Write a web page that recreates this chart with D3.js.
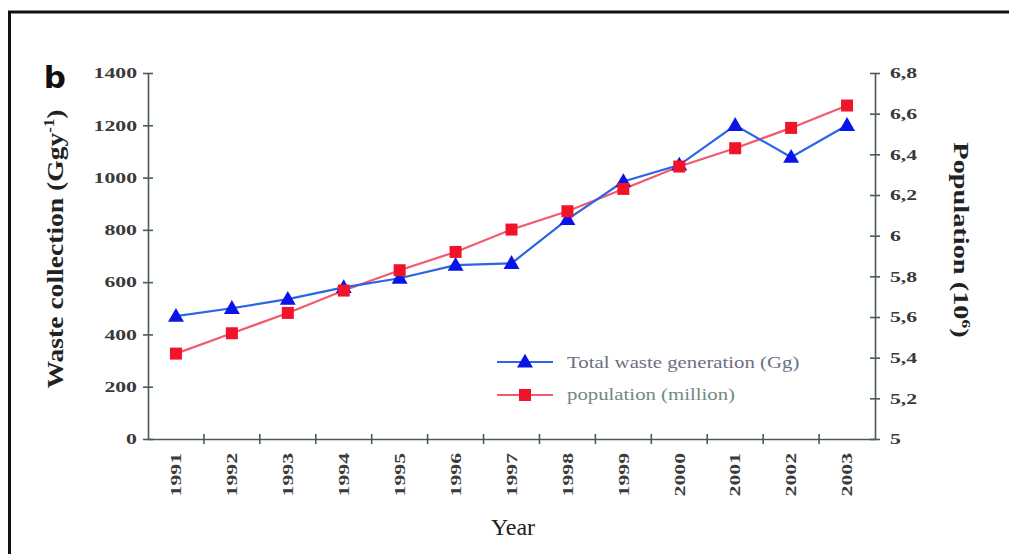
<!DOCTYPE html>
<html><head><meta charset="utf-8">
<script src="https://cdn.jsdelivr.net/npm/d3@7"></script>
<style>body{margin:0;background:#fff;}svg{display:block;}</style>
</head><body>
<svg id="c" width="1009" height="554"></svg>
<script>
const years = ["1991","1992","1993","1994","1995","1996","1997","1998","1999","2000","2001","2002","2003"];
const waste = [470, 500, 535, 580, 615, 665, 672, 840, 985, 1048, 1200, 1078, 1200];
const population = [5.42, 5.52, 5.62, 5.73, 5.83, 5.92, 6.03, 6.12, 6.23, 6.34, 6.43, 6.53, 6.64];
const leftTicks = [0,200,400,600,800,1000,1200,1400];
const rightTicks = [5,5.2,5.4,5.6,5.8,6,6.2,6.4,6.6,6.8];
const legendLabels = ["Total waste generation (Gg)", "population (million)"];

const svg = d3.select("#c");
const L = 148, R = 875, T = 73, B = 439;
const serif = "'Liberation Serif','DejaVu Serif',serif";
const axisCol = "#4a5a55";

svg.append("rect").attr("x",9.5).attr("y",12).attr("width",1100).attr("height",700)
  .attr("fill","none").attr("stroke","#111").attr("stroke-width",3);

const x = d3.scaleBand().domain(years).range([L,R]).paddingInner(0).paddingOuter(0);
const yL = d3.scaleLinear().domain([0,1400]).range([B,T]);
const yR = d3.scaleLinear().domain([5,6.8]).range([B,T]);

function styleAxis(g){
  g.select(".domain").attr("stroke",axisCol).attr("stroke-width",1.6);
  g.selectAll(".tick line").attr("stroke",axisCol).attr("stroke-width",1.6);
  g.selectAll("text").attr("font-family",serif).attr("font-weight","bold").attr("font-size",15).attr("fill","#3a3a3a");
}
const gl = svg.append("g").attr("transform",`translate(${L},0)`)
  .call(d3.axisLeft(yL).tickValues(leftTicks).tickSize(5).tickSizeOuter(0).tickFormat(d3.format("d")));
gl.selectAll(".tick line").attr("x2",5).attr("x1",-5);
styleAxis(gl);
gl.selectAll(".tick text").attr("x",0).attr("transform","translate(-11,0) scale(1.45,1)");

const fmtR = d => (d===5||d===6) ? String(d) : String(d).replace(".",",");
const gr = svg.append("g").attr("transform",`translate(${R},0)`)
  .call(d3.axisRight(yR).tickValues(rightTicks).tickSize(5).tickSizeOuter(0).tickFormat(fmtR));
gr.selectAll(".tick line").attr("x1",-5).attr("x2",5);
styleAxis(gr);
gr.selectAll(".tick text").attr("x",0).attr("transform","translate(15,0) scale(1.45,1)");

const gx = svg.append("g").attr("transform",`translate(0,${B})`)
  .call(d3.axisBottom(x).tickSize(0).tickSizeOuter(0));
styleAxis(gx);
gx.selectAll(".tick text").attr("text-anchor","end").attr("x",0).attr("y",0).attr("dy","0.35em")
  .attr("transform","rotate(-90) translate(-14,0) scale(1.45,1)");
const bounds = years.slice(1).map(y => x(y));
svg.append("g").selectAll("line").data(bounds).join("line")
  .attr("x1",d=>d).attr("x2",d=>d).attr("y1",B-5).attr("y2",B+5)
  .attr("stroke",axisCol).attr("stroke-width",1.6);

const cx = d => x(d) + x.bandwidth()/2;

const lineW = d3.line().x((d,i)=>cx(years[i])).y(d=>yL(d));
const lineP = d3.line().x((d,i)=>cx(years[i])).y(d=>yR(d));
svg.append("path").attr("d",lineP(population)).attr("fill","none").attr("stroke","#f25a6a").attr("stroke-width",2.2);
svg.append("path").attr("d",lineW(waste)).attr("fill","none").attr("stroke","#2a64e8").attr("stroke-width",2.2);

const tri = d3.symbol().type(d3.symbolTriangle).size(110);
svg.append("g").selectAll("path").data(waste).join("path")
  .attr("d",tri).attr("transform",(d,i)=>`translate(${cx(years[i])},${yL(d)+1})`).attr("fill","#0a14e6");
svg.append("g").selectAll("rect").data(population).join("rect")
  .attr("x",(d,i)=>cx(years[i])-6).attr("y",d=>yR(d)-6).attr("width",12).attr("height",12)
  .attr("fill","#f01428");

const lg = svg.append("g");
lg.append("line").attr("x1",497).attr("x2",553).attr("y1",362).attr("y2",362).attr("stroke","#2a64e8").attr("stroke-width",2.2);
lg.append("path").attr("d",tri).attr("transform","translate(525,363)").attr("fill","#0a14e6");
lg.append("text").attr("transform","translate(567,368) scale(1.3,1)").text(legendLabels[0])
  .attr("font-family",serif).attr("font-size",16).attr("fill","#6b7080");
lg.append("line").attr("x1",497).attr("x2",553).attr("y1",395).attr("y2",395).attr("stroke","#f25a6a").attr("stroke-width",2.2);
lg.append("rect").attr("x",519).attr("y",389).attr("width",12).attr("height",12).attr("fill","#f01428");
lg.append("text").attr("transform","translate(567,400) scale(1.3,1)").text(legendLabels[1])
  .attr("font-family",serif).attr("font-size",16).attr("fill","#6f8a80");

svg.append("text").attr("x",66).attr("y",88).text("b")
  .attr("font-family","'DejaVu Sans',sans-serif").attr("font-weight","bold").attr("font-size",31).attr("fill","#111")
  .attr("text-anchor","end");
const yt = svg.append("text").attr("transform","translate(63,249) rotate(-90) scale(1.2,1)").attr("text-anchor","middle")
  .attr("font-family",serif).attr("font-weight","bold").attr("font-size",23).attr("fill","#222");
yt.append("tspan").text("Waste collection (Ggy");
yt.append("tspan").text("-1").attr("font-size",14).attr("dy",-9);
yt.append("tspan").text(")").attr("dy",9);
const rt = svg.append("text").attr("transform","translate(954,240) rotate(90) scale(1.35,1)").attr("text-anchor","middle")
  .attr("font-family",serif).attr("font-weight","bold").attr("font-size",21).attr("fill","#222");
rt.append("tspan").text("Population (10");
rt.append("tspan").text("6").attr("font-size",13).attr("dy",-8);
rt.append("tspan").text(")").attr("dy",8);
svg.append("text").attr("x",513).attr("y",535).attr("text-anchor","middle").text("Year")
  .attr("font-family",serif).attr("font-size",24).attr("fill","#222");
</script>
</body></html>
